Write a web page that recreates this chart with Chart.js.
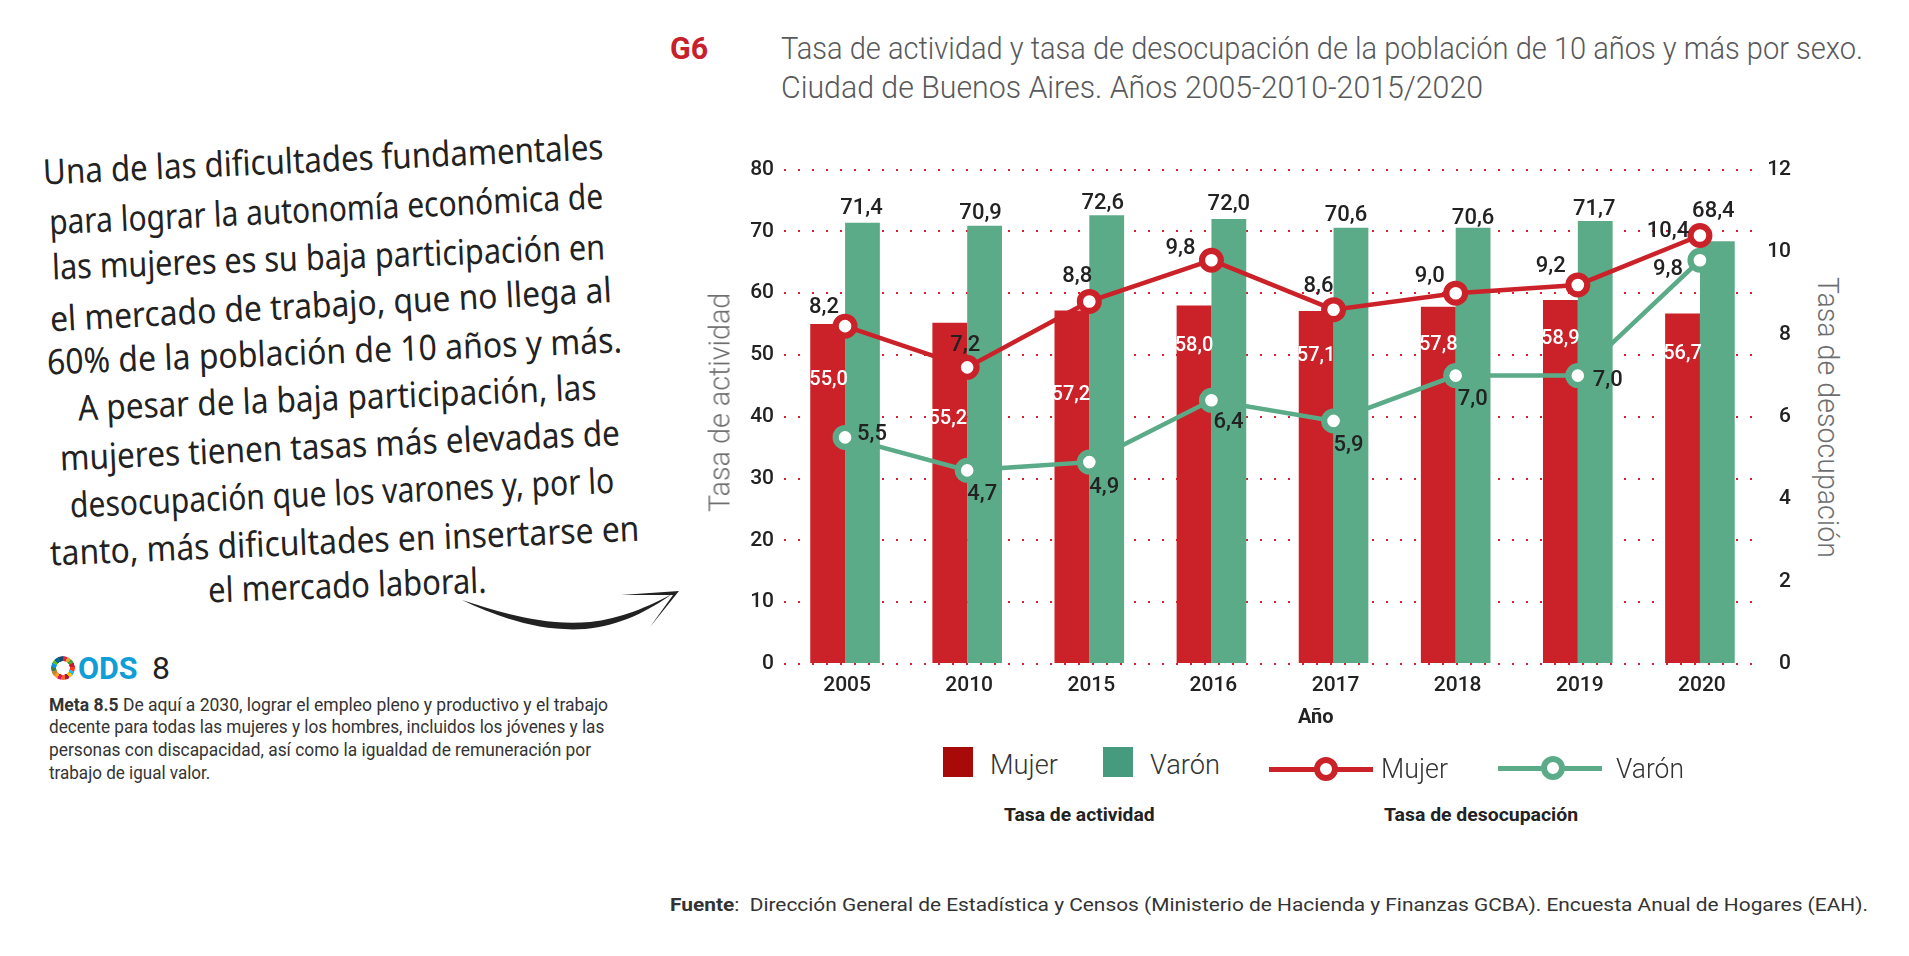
<!DOCTYPE html>
<html lang="es">
<head>
<meta charset="utf-8">
<title>G6 Tasa de actividad y desocupación</title>
<script src="https://cdn.jsdelivr.net/npm/chart.js@4"></script>
<style>
html, body { margin: 0; padding: 0; background: #fff; }
body { position: relative; width: 1909px; height: 956px; overflow: hidden; font-family: Roboto, sans-serif; color: #222; }
#wrap { position: absolute; left: 700px; top: 147px; width: 1091px; height: 593px; }
.t { position: absolute; white-space: nowrap; transform-origin: left center; line-height: 1; }
.hand { font-family: "Noto Sans", sans-serif; font-size: 35px; color: #222; }
.title { font-weight: 300; font-size: 32px; color: #58595b; }
.leg { font-weight: 300; font-size: 28px; color: #333; }
.legB { font-weight: 700; font-size: 19px; color: #222; }
.meta { font-size: 18px; color: #333; }
.axt { font-size: 29px; font-weight: 300; color: #6d6e70; }
.sq { position: absolute; width: 30px; height: 30px; }
.ln { position: absolute; width: 104px; height: 5px; }
.mk { position: absolute; width: 12px; height: 12px; border-radius: 50%; background: #fff; border: 6px solid; }
#ring { position: absolute; left: 51px; top: 656px; width: 24px; height: 24px; border-radius: 50%;
  background: conic-gradient(#e5243b 0 21deg,#dda63a 0 42deg,#4c9f38 0 63deg,#c5192d 0 84deg,#ff3a21 0 105deg,#26bde2 0 126deg,#fcc30b 0 147deg,#a21942 0 168deg,#fd6925 0 189deg,#dd1367 0 210deg,#fd9d24 0 231deg,#bf8b2e 0 252deg,#3f7e44 0 273deg,#0a97d9 0 294deg,#56c02b 0 315deg,#00689d 0 336deg,#19486a 0 360deg);
  -webkit-mask: radial-gradient(circle, transparent 6.5px, #000 7px); mask: radial-gradient(circle, transparent 6.5px, #000 7px); }
svg { position: absolute; left: 0; top: 0; }
</style>
</head>
<body>

<div class="t" style="left:670px;top:48px;font-size:32px;font-weight:700;color:#c8202a" data-w="38">G6</div>
<div class="t title" style="left:781px;top:48px" data-w="1082">Tasa de actividad y tasa de desocupación de la población de 10 años y más por sexo.</div>
<div class="t title" style="left:781px;top:87px" data-w="702">Ciudad de Buenos Aires. Años 2005-2010-2015/2020</div>

<div class="t hand" style="left:43px;top:171px" data-w="561" data-r="-2.6">Una de las dificultades fundamentales</div>
<div class="t hand" style="left:49px;top:221px" data-w="555" data-r="-2.7">para lograr la autonomía económica de</div>
<div class="t hand" style="left:52px;top:266px" data-w="553" data-r="-2.1">las mujeres es su baja participación en</div>
<div class="t hand" style="left:50px;top:318px" data-w="562" data-r="-3">el mercado de trabajo, que no llega al</div>
<div class="t hand" style="left:47px;top:361px" data-w="575" data-r="-2.2">60% de la población de 10 años y más.</div>
<div class="t hand" style="left:78px;top:407px" data-w="519" data-r="-2.3">A pesar de la baja participación, las</div>
<div class="t hand" style="left:60px;top:457px" data-w="560" data-r="-2.6">mujeres tienen tasas más elevadas de</div>
<div class="t hand" style="left:70px;top:504px" data-w="545" data-r="-2.6">desocupación que los varones y, por lo</div>
<div class="t hand" style="left:50px;top:552px" data-w="590" data-r="-2.4">tanto, más dificultades en insertarse en</div>
<div class="t hand" style="left:208px;top:589px" data-w="279" data-r="-2">el mercado laboral.</div>

<svg width="700" height="660">
  <path d="M462 600 C500 612 540 626 590 622 C620 619 650 606 672 594 C650 610 620 626 585 629 C540 632 500 618 462 600 Z" fill="#222"/>
  <path d="M621 595 L679 591 L650 627 L673 595 Z" fill="#222"/>
</svg>

<div id="ring"></div>
<div class="t" style="left:78px;top:668px;font-size:32px;font-weight:700;color:#0f9ed5" data-w="60">ODS</div>
<div class="t" style="left:152px;top:668px;font-size:32px;color:#222" data-w="18">8</div>
<div class="t meta" style="left:49px;top:705px" data-w="559"><b>Meta 8.5</b> De aquí a 2030, lograr el empleo pleno y productivo y el trabajo</div>
<div class="t meta" style="left:49px;top:727px" data-w="555">decente para todas las mujeres y los hombres, incluidos los jóvenes y las</div>
<div class="t meta" style="left:49px;top:750px" data-w="542">personas con discapacidad, así como la igualdad de remuneración por</div>
<div class="t meta" style="left:49px;top:773px" data-w="161">trabajo de igual valor.</div>

<div id="wrap"><canvas id="grafico"></canvas></div>

<!-- the printed axis titles sit off centre, so they are placed by hand -->
<div class="t axt" style="left:720px;top:512px" data-w="219" data-r="-90">Tasa de actividad</div>
<div class="t axt" style="left:1827px;top:277px" data-w="281" data-r="90">Tasa de desocupación</div>
<div class="t" style="left:1298px;top:716px;font-size:20px;font-weight:700;color:#222" data-w="36">Año</div>

<div class="sq" style="left:943px;top:747px;background:#a80a0a"></div>
<div class="t leg" style="left:990px;top:765px" data-w="68">Mujer</div>
<div class="sq" style="left:1103px;top:747px;background:#469a7d"></div>
<div class="t leg" style="left:1150px;top:765px" data-w="70">Varón</div>
<div class="ln" style="left:1269px;top:767px;background:#cb2229"></div>
<div class="mk" style="left:1314px;top:757px;border-color:#cb2229"></div>
<div class="t leg" style="left:1381px;top:769px" data-w="67">Mujer</div>
<div class="ln" style="left:1498px;top:766px;background:#5cab88"></div>
<div class="mk" style="left:1541px;top:756px;border-color:#5cab88"></div>
<div class="t leg" style="left:1616px;top:769px" data-w="68">Varón</div>
<div class="t legB" style="left:1004px;top:814px" data-w="151">Tasa de actividad</div>
<div class="t legB" style="left:1384px;top:814px" data-w="194">Tasa de desocupación</div>

<div class="t meta" style="left:670px;top:904px;font-size:19px" data-w="1198"><b>Fuente</b>:&nbsp; Dirección General de Estadística y Censos (Ministerio de Hacienda y Finanzas GCBA). Encuesta Anual de Hogares (EAH).</div>

<script>
const anios = ['2005', '2010', '2015', '2016', '2017', '2018', '2019', '2020']
const actividadMujer = [55.0, 55.2, 57.2, 58.0, 57.1, 57.8, 58.9, 56.7]
const actividadVaron = [71.4, 70.9, 72.6, 72.0, 70.6, 70.6, 71.7, 68.4]
const desocupMujer = [8.2, 7.2, 8.8, 9.8, 8.6, 9.0, 9.2, 10.4]
const desocupVaron = [5.5, 4.7, 4.9, 6.4, 5.9, 7.0, 7.0, 9.8]

const ROJO = '#cb2229'
const VERDE = '#5cab88'

// where each value label sits relative to its mark, by dataset index
const offsetsEtiquetas = {
  0: [[1, 56], [-2, 96], [-1, 84], [0, 40], [0, 45], [0, 38], [0, 39], [0, 40]],
  1: [[-1, -14], [-4, -12], [-4, -12], [0, -15], [-5, -12], [0, -9], [-1, -11], [-4, -30]],
  2: [[-21, -19], [-2, -22], [-12, -25], [-31, -12], [-15, -23], [-26, -17], [-27, -18], [-32, -4]],
  3: [[27, -3], [15, 24], [15, 25], [17, 22], [15, 25], [17, 24], [30, 5], [-32, 9]]
}

const etiquetas = {
  id: 'etiquetas',
  afterDatasetsDraw(chart) {
    const ctx = chart.ctx
    ctx.save()
    ctx.textAlign = 'center'
    ctx.textBaseline = 'middle'
    chart.data.datasets.forEach((ds, i) => {
      chart.getDatasetMeta(i).data.forEach((el, j) => {
        const off = offsetsEtiquetas[i][j]
        ctx.font = (i == 0 ? '500 20px' : '500 22px') + ' Roboto'
        ctx.fillStyle = i == 0 ? '#fff' : '#222'
        ctx.fillText(ds.data[j].toFixed(1).replace('.', ','), el.x + off[0], el.y + off[1])
      })
    })
    ctx.restore()
  }
}

const data = {
  labels: anios,
  datasets: [{
    type: 'bar',
    label: 'Tasa de actividad Mujer',
    data: actividadMujer,
    backgroundColor: ROJO,
    yAxisID: 'y',
    order: 3,
    barPercentage: 1,
    categoryPercentage: 0.57
  }, {
    type: 'bar',
    label: 'Tasa de actividad Varón',
    data: actividadVaron,
    backgroundColor: VERDE,
    yAxisID: 'y',
    order: 3,
    barPercentage: 1,
    categoryPercentage: 0.57
  }, {
    type: 'line',
    label: 'Tasa de desocupación Mujer',
    data: desocupMujer,
    borderColor: ROJO,
    borderWidth: 4.5,
    tension: 0,
    pointRadius: 9.4,
    pointBorderWidth: 6.2,
    pointBackgroundColor: '#fff',
    pointBorderColor: ROJO,
    yAxisID: 'y2',
    order: 1
  }, {
    type: 'line',
    label: 'Tasa de desocupación Varón',
    data: desocupVaron,
    borderColor: VERDE,
    borderWidth: 4.5,
    tension: 0,
    pointRadius: 9.4,
    pointBorderWidth: 6.2,
    pointBackgroundColor: '#fff',
    pointBorderColor: VERDE,
    yAxisID: 'y2',
    order: 2
  }]
}

const config = {
  data: data,
  plugins: [etiquetas],
  options: {
    responsive: false,
    animation: false,
    layout: { padding: { top: 10 } },
    plugins: { legend: { display: false }, tooltip: { enabled: false } },
    scales: {
      x: {
        grid: { display: false, drawTicks: false },
        border: { display: false },
        ticks: { color: '#222', font: { family: 'Roboto', size: 21, weight: '500' }, padding: 9, maxRotation: 0, labelOffset: 2 },
        afterFit(axis) { axis.height = 76 }
      },
      y: {
        position: 'left',
        min: 0,
        max: 80,
        grid: { color: '#d9202e', lineWidth: 2, drawTicks: false },
        border: { display: false, dash: [2, 12] },
        ticks: { stepSize: 10, color: '#222', font: { family: 'Roboto', size: 21, weight: '500' }, padding: 10 },
        afterFit(axis) { axis.width = 84 }
      },
      y2: {
        position: 'right',
        min: 0,
        max: 12,
        grid: { display: false, drawTicks: false },
        border: { display: false },
        ticks: { stepSize: 2, color: '#222', font: { family: 'Roboto', size: 21, weight: '500' }, padding: 5, crossAlign: 'far' },
        afterFit(axis) { axis.width = 30 }
      }
    }
  }
}

let canvas = document.getElementById('grafico')
canvas.width = 1091
canvas.height = 593
new Chart(canvas.getContext('2d'), config)

// squeeze every text line to the width it has in the printed page
document.querySelectorAll('.t').forEach(el => {
  let w = parseFloat(el.dataset.w)
  let r = el.dataset.r || 0
  let s = w / el.offsetWidth
  el.style.transform = `translateY(-50%) rotate(${r}deg) scaleX(${s})`
})
</script>
</body>
</html>
